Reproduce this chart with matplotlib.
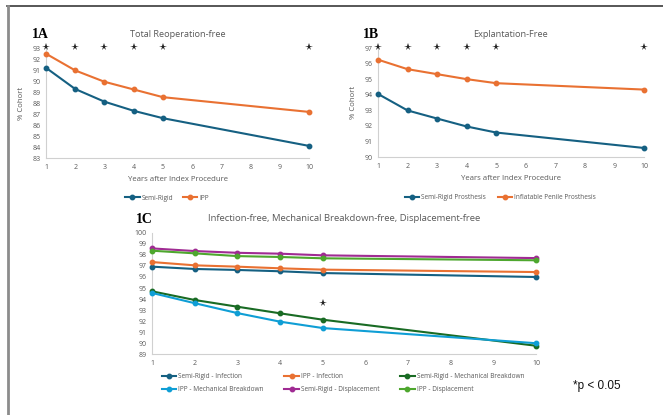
import matplotlib
matplotlib.use("Agg")
import matplotlib.pyplot as plt
from matplotlib.lines import Line2D

# ---------------- data ----------------
years = [1, 2, 3, 4, 5, 10]
xticks = [1, 2, 3, 4, 5, 6, 7, 8, 9, 10]

# 1A Total Reoperation-free
a_semi = [91.2, 89.27, 88.12, 87.29, 86.62, 84.1]
a_ipp = [92.48, 90.96, 89.93, 89.23, 88.53, 87.19]
a_sig = [1, 2, 3, 4, 5, 10]

# 1B Explantation-Free
b_semi = [94.05, 92.99, 92.47, 91.96, 91.57, 90.58]
b_ipp = [96.25, 95.64, 95.32, 95.0, 94.74, 94.33]
b_sig = [1, 2, 3, 4, 5, 10]

# 1C
c_sr_inf = [96.94, 96.73, 96.64, 96.52, 96.36, 96.0]
c_ipp_inf = [97.36, 97.06, 96.94, 96.79, 96.67, 96.45]
c_sr_mech = [94.7, 93.91, 93.3, 92.7, 92.12, 89.75]
c_ipp_mech = [94.55, 93.62, 92.72, 91.94, 91.36, 89.98]
c_sr_disp = [98.6, 98.36, 98.2, 98.12, 97.97, 97.72]
c_ipp_disp = [98.39, 98.15, 97.9, 97.82, 97.7, 97.52]
c_sig = [5]
c_sig_y = [93.6]

BLUE = "#156082"
ORANGE = "#E97132"
DGREEN = "#196B24"
LBLUE = "#0F9ED5"
PURPLE = "#A02B93"
GREEN = "#4EA72E"
GRAY_TXT = "#595959"
SPINE = "#d0d0d0"

plt.rcParams["font.family"] = ["Open Sans", "DejaVu Sans"]

fig = plt.figure(figsize=(6.63, 4.15), dpi=100)
W, H = 663, 415


def add_ax(l, t, r, b):
    return fig.add_axes([l / W, 1 - b / H, (r - l) / W, (b - t) / H])


def style(ax, ylim, yticks):
    ax.set_xlim(1, 10)
    ax.set_ylim(*ylim)
    ax.set_xticks(xticks)
    ax.set_yticks(yticks)
    for s in ["top", "right"]:
        ax.spines[s].set_visible(False)
    for s in ["left", "bottom"]:
        ax.spines[s].set_color(SPINE)
        ax.spines[s].set_linewidth(0.8)
    ax.tick_params(length=0, labelsize=5, labelcolor=GRAY_TXT, pad=4)


def series(ax, y, color, label):
    ax.plot(years, y, color=color, lw=1.5, marker="o", ms=3.2, label=label,
            clip_on=False, zorder=3)


def stars(ax, xs, ys):
    ax.plot(xs, ys, linestyle="none", marker="*", color="#222222", ms=5.5,
            mew=0, clip_on=False, zorder=4)


LEG = dict(frameon=False, fontsize=4.7, labelcolor=GRAY_TXT, handlelength=2.2,
           handletextpad=0.3)

# ---------- frame ----------
fig.add_artist(Line2D([7 / W, 1], [1 - 6 / H, 1 - 6 / H], color="#3a3a3a", lw=1.2))
fig.add_artist(Line2D([8 / W, 8 / W], [0, 1 - 6 / H], color="#8c8c8c", lw=2.0))

# ---------- 1A ----------
axA = add_ax(46, 48, 309, 158)
series(axA, a_semi, BLUE, "Semi-Rigid")
series(axA, a_ipp, ORANGE, "IPP")
style(axA, (83, 93), list(range(83, 94)))
stars(axA, a_sig, [93.05] * len(a_sig))
axA.set_title("Total Reoperation-free", fontsize=6.6, color=GRAY_TXT, pad=8)
axA.set_xlabel("Years after Index Procedure", fontsize=5.6, color=GRAY_TXT, labelpad=4)
axA.set_ylabel("% Cohort", fontsize=5.6, color=GRAY_TXT, labelpad=5)
axA.legend(loc="upper center", bbox_to_anchor=(0.46, -0.28), ncol=2,
           columnspacing=1.5, **LEG)
fig.text(32 / W, 1 - 34 / H, "1A", fontsize=10, fontweight="bold",
         family="Liberation Serif", va="center", ha="left")

# ---------- 1B ----------
axB = add_ax(378, 48, 644, 157)
series(axB, b_semi, BLUE, "Semi-Rigid Prosthesis")
series(axB, b_ipp, ORANGE, "Inflatable Penile Prosthesis")
style(axB, (90, 97), list(range(90, 98)))
stars(axB, b_sig, [97.05] * len(b_sig))
axB.set_title("Explantation-Free", fontsize=6.6, color=GRAY_TXT, pad=8)
axB.set_xlabel("Years after Index Procedure", fontsize=5.6, color=GRAY_TXT, labelpad=4)
axB.set_ylabel("% Cohort", fontsize=5.6, color=GRAY_TXT, labelpad=5)
axB.legend(loc="upper center", bbox_to_anchor=(0.46, -0.29), ncol=2,
           columnspacing=1.8, **LEG)
fig.text(363 / W, 1 - 34 / H, "1B", fontsize=10, fontweight="bold",
         family="Liberation Serif", va="center", ha="left")

# ---------- 1C ----------
axC = add_ax(152, 233, 536, 354)
series(axC, c_sr_inf, BLUE, "Semi-Rigid - Infection")
series(axC, c_ipp_inf, ORANGE, "IPP - Infection")
series(axC, c_sr_mech, DGREEN, "Semi-Rigid - Mechanical Breakdown")
series(axC, c_ipp_mech, LBLUE, "IPP - Mechanical Breakdown")
series(axC, c_sr_disp, PURPLE, "Semi-Rigid - Displacement")
series(axC, c_ipp_disp, GREEN, "IPP - Displacement")
style(axC, (89, 100), list(range(89, 101)))
stars(axC, c_sig, c_sig_y)
axC.set_title("Infection-free, Mechanical Breakdown-free, Displacement-free",
              fontsize=6.8, color=GRAY_TXT, pad=9)
h, l = axC.get_legend_handles_labels()
order = [0, 3, 1, 4, 2, 5]
axC.legend([h[i] for i in order], [l[i] for i in order], loc="upper left",
           bbox_to_anchor=(0.01, -0.11), ncol=3, columnspacing=3.2,
           labelspacing=0.9, **LEG)
fig.text(136 / W, 1 - 219 / H, "1C", fontsize=10, fontweight="bold",
         family="Liberation Serif", va="center", ha="left")

fig.text(573 / W, 1 - 386 / H, "*p < 0.05", fontsize=8.5, color="#111111",
         family="Liberation Sans", va="center", ha="left")

fig.savefig("out.png", dpi=100)
